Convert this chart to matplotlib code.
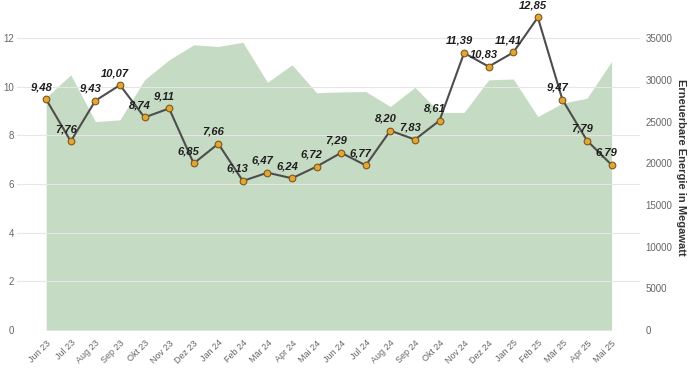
import numpy as np
import matplotlib
matplotlib.use('Agg')
import matplotlib.pyplot as plt

plt.rcParams['font.family'] = ['Liberation Sans', 'DejaVu Sans']

# Monate
months = ['Jun 23', 'Jul 23', 'Aug 23', 'Sep 23', 'Okt 23', 'Nov 23', 'Dez 23',
          'Jan 24', 'Feb 24', 'Mär 24', 'Apr 24', 'Mai 24', 'Jun 24', 'Jul 24',
          'Aug 24', 'Sep 24', 'Okt 24', 'Nov 24', 'Dez 24', 'Jan 25', 'Feb 25',
          'Mär 25', 'Apr 25', 'Mai 25']

# Preis (linke Achse)
price = [9.48, 7.76, 9.43, 10.07, 8.74, 9.11, 6.85, 7.66, 6.13, 6.47, 6.24, 6.72,
         7.29, 6.77, 8.20, 7.83, 8.61, 11.39, 10.83, 11.41, 12.85, 9.47, 7.79, 6.79]

# Erneuerbare Energie in MW (rechte Achse, geschaetzt)
renew = [27900, 30600, 25000, 25200, 30000, 32400, 34200, 34000, 34500, 29700,
         31800, 28450, 28550, 28600, 26800, 29100, 26100, 26100, 30000, 30100,
         25600, 27200, 27800, 32200]

x = np.arange(len(months))

fig = plt.figure(figsize=(6.88, 3.87), dpi=100)
ax = fig.add_axes([0.025, 0.147, 0.905, 0.84])
ax2 = ax.twinx()

top_left = 13.36
ax.set_ylim(0, top_left)
ax2.set_ylim(0, top_left / 12 * 35000)
ax.set_xlim(-1.18, 24.15)

# Flaeche auf der rechten Achse, aber hinter der Linie
ax2.fill_between(x, renew, color='#c6dbc3', linewidth=0, zorder=1)
ax2.set_zorder(0)
ax.set_zorder(1)
ax.patch.set_visible(False)

ax.plot(x, price, color='#4d4d4d', linewidth=1.5, zorder=3,
        marker='o', markersize=4.8, markerfacecolor='#e3a535',
        markeredgecolor='#7a5a1a', markeredgewidth=0.8)

for xi, p in zip(x, price):
    ax.annotate(('%.2f' % p).replace('.', ','), (xi, p), xytext=(-5, 12),
                textcoords='offset pixels', ha='center', va='center',
                fontsize=8, fontweight='bold', fontstyle='italic',
                color='#1e1e1e', zorder=4)

ax.set_yticks(np.arange(0, 13, 2))
ax.grid(axis='y', color='#e6e6e6', linewidth=0.8)
ax.set_axisbelow(True)
ax2.set_yticks(np.arange(0, 35001, 5000))

ax.set_xticks(x)
ax.set_xticklabels(months, rotation=45, ha='right', rotation_mode='anchor',
                   fontsize=6.5, color='#666666')
for a in (ax, ax2):
    for s in a.spines.values():
        s.set_visible(False)
    a.tick_params(length=0)
ax.tick_params(axis='y', labelsize=7, colors='#666666', pad=2)
ax.tick_params(axis='x', pad=6)
ax2.tick_params(axis='y', labelsize=7, colors='#666666', pad=4)
ax2.set_ylabel('Erneuerbare Energie in Megawatt', rotation=270, labelpad=10,
               fontsize=8, fontweight='bold', color='#333333')

fig.savefig('out.png', dpi=100)
